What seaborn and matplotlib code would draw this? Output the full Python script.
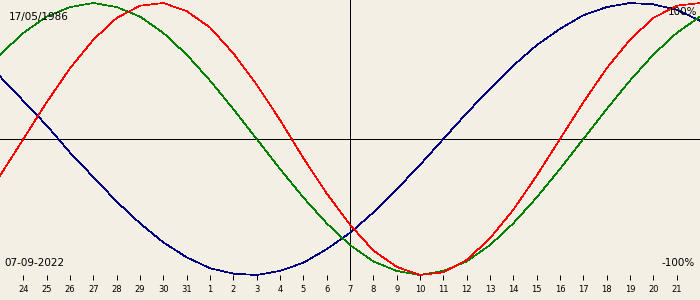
import matplotlib
matplotlib.use("Agg")
import matplotlib.pyplot as plt
import seaborn as sns
import pandas as pd

# Day offsets relative to 07-09-2022 (from 23 Aug to 22 Sep)
day_offsets = list(range(-15, 16))
tick_offsets = list(range(-14, 15))
tick_labels = ["24", "25", "26", "27", "28", "29", "30", "31", "1", "2", "3", "4",
               "5", "6", "7", "8", "9", "10", "11", "12", "13", "14", "15", "16",
               "17", "18", "19", "20", "21"]

physical = [-0.27, 0.00, 0.27, 0.52, 0.73, 0.89, 0.98, 1.00, 0.94, 0.82, 0.63,
            0.40, 0.14, -0.14, -0.40, -0.63, -0.82, -0.94, -1.00, -0.98, -0.89,
            -0.73, -0.52, -0.27, 0.00, 0.27, 0.52, 0.73, 0.89, 0.98, 1.00]
emotional = [0.62, 0.78, 0.90, 0.97, 1.00, 0.97, 0.90, 0.78, 0.62, 0.43, 0.22,
             0.00, -0.22, -0.43, -0.62, -0.78, -0.90, -0.97, -1.00, -0.97, -0.90,
             -0.78, -0.62, -0.43, -0.22, 0.00, 0.22, 0.43, 0.62, 0.78, 0.90]
intellectual = [0.46, 0.28, 0.10, -0.10, -0.28, -0.46, -0.62, -0.76, -0.87, -0.95,
                -0.99, -1.00, -0.97, -0.91, -0.81, -0.69, -0.54, -0.37, -0.19, 0.00,
                0.19, 0.37, 0.54, 0.69, 0.81, 0.91, 0.97, 1.00, 0.99, 0.95, 0.87]

birth_label = "17/05/1986"
date_label = "07-09-2022"

bg = "#F3EFE4"

df = pd.concat([
    pd.DataFrame({"day": day_offsets, "value": physical, "cycle": "physical"}),
    pd.DataFrame({"day": day_offsets, "value": emotional, "cycle": "emotional"}),
    pd.DataFrame({"day": day_offsets, "value": intellectual, "cycle": "intellectual"}),
])

fig = plt.figure(figsize=(7, 3), dpi=100, facecolor=bg)
ax = fig.add_axes([0, 20 / 300, 1, 280 / 300])
ax.set_facecolor(bg)

sns.lineplot(data=df, x="day", y="value", hue="cycle",
             hue_order=["intellectual", "emotional", "physical"],
             palette={"physical": "#FF0000", "emotional": "#008000", "intellectual": "#000080"},
             linewidth=0.5, legend=False, ax=ax, antialiased=False)

ax.axhline(0, color="black", linewidth=0.72, antialiased=False, zorder=0)
ax.axvline(0, color="black", linewidth=0.72, antialiased=False, zorder=0)

ax.set_xlim(-15, 15)
ax.set_ylim(-141 / 136, 139 / 136)

for s in ax.spines.values():
    s.set_visible(False)
ax.set_yticks([])
ax.set_xticks(tick_offsets)
ax.set_xticklabels(tick_labels)
ax.tick_params(axis="x", direction="in", length=3.6, width=0.72, pad=3.6,
               labelsize=6, colors="black")
ax.set_xlabel("")
ax.set_ylabel("")

fig.text(9 / 700, 1 - 17 / 300, birth_label, fontsize=7.5, va="center", ha="left")
fig.text(697 / 700, 1 - 12 / 300, "100%", fontsize=7.5, va="center", ha="right")
fig.text(4 / 700, 1 - 263 / 300, date_label, fontsize=7.5, va="center", ha="left")
fig.text(695 / 700, 1 - 263 / 300, "-100%", fontsize=7.5, va="center", ha="right")

fig.savefig("out.png", dpi=100, facecolor=bg)
